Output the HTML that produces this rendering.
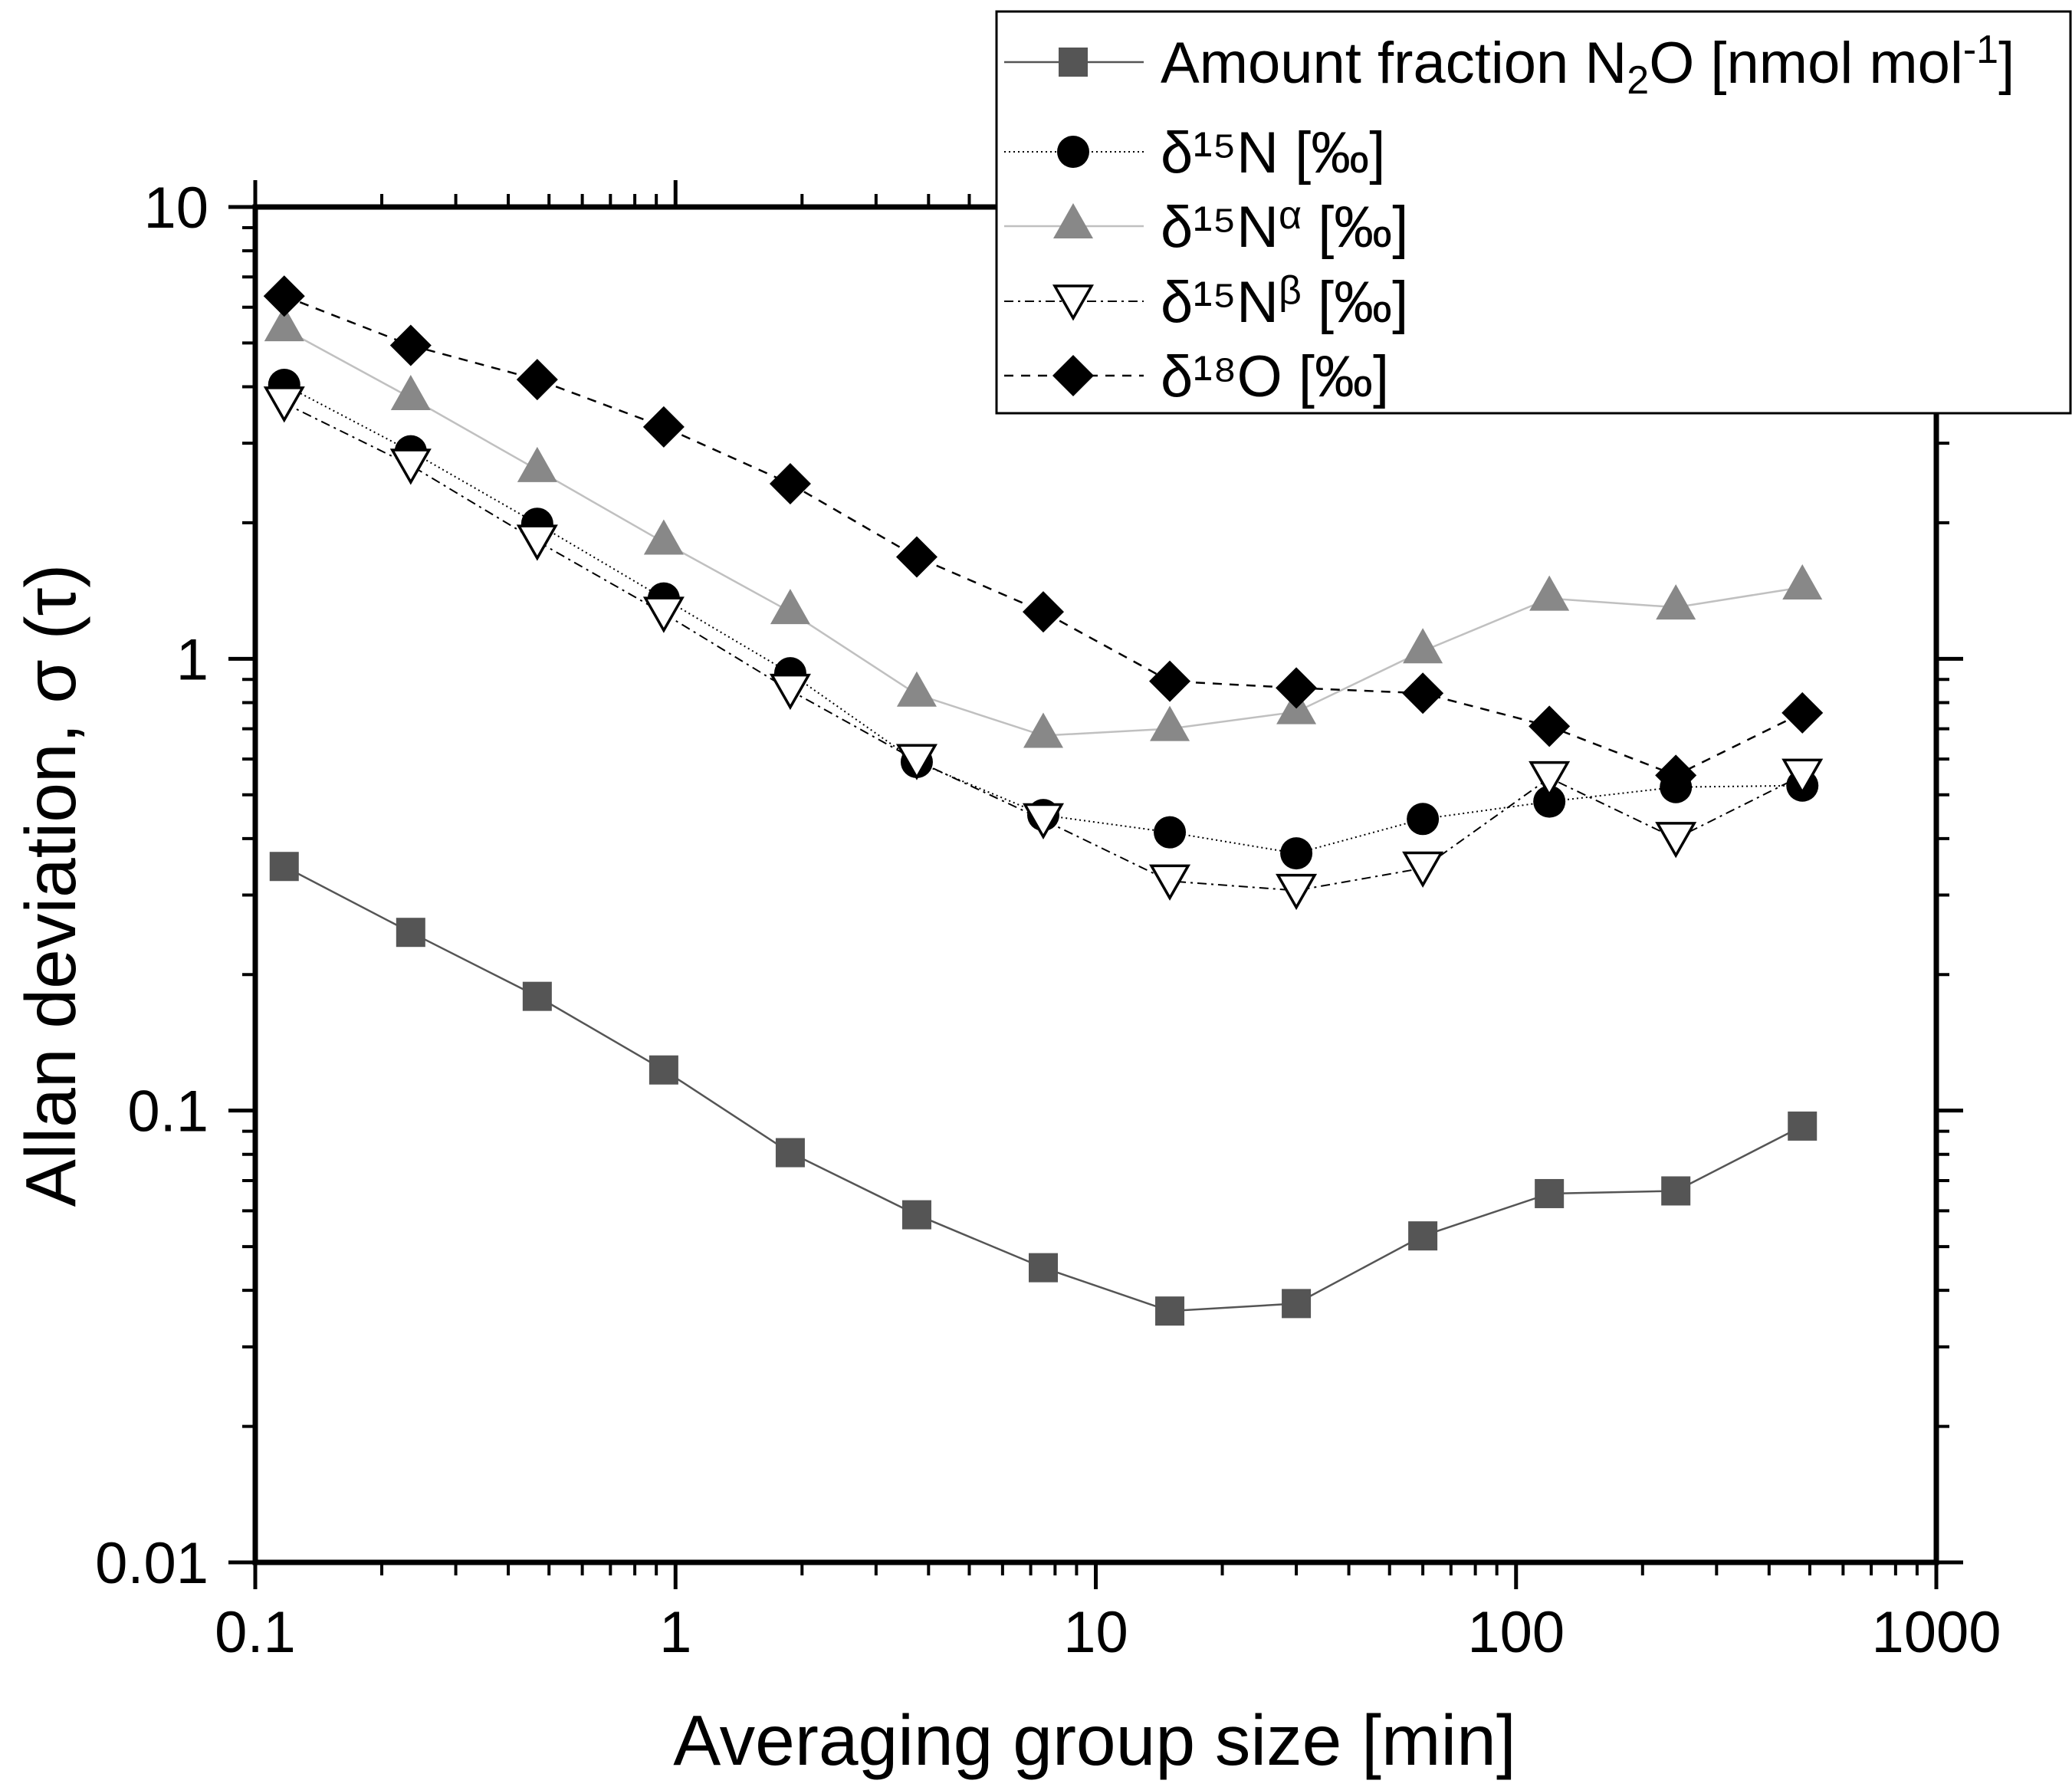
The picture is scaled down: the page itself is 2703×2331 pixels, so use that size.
<!DOCTYPE html>
<html><head><meta charset="utf-8"><style>
html,body{margin:0;padding:0;background:#fff;}
svg{display:block;font-family:"Liberation Sans",Arial,sans-serif;}
</style></head><body>
<svg id="chart" width="2703" height="2331" viewBox="0 0 2703 2331" xmlns="http://www.w3.org/2000/svg">
<g id="grid-layer"></g>
<g id="series-layer"></g>
<g id="axes-layer"></g>
<text x="1428" y="2302" font-size="93" text-anchor="middle">Averaging group size [min]</text>
<text transform="translate(98,1155) rotate(-90)" font-size="93" text-anchor="middle">Allan deviation, σ (τ)</text>
<g id="legend-layer"></g>
</svg>
<script>
const xValues = [0.1171875,0.234375,0.46875,0.9375,1.875,3.75,7.5,15,30,60,120,240,480];
const n2oValues = [0.347,0.248,0.179,0.123,0.0807,0.0588,0.0449,0.0360,0.0374,0.0528,0.0655,0.0664,0.0924];
const d15NValues = [4.04,2.88,1.99,1.36,0.929,0.591,0.451,0.413,0.371,0.442,0.483,0.52,0.524];
const d15NaValues = [5.37,3.78,2.62,1.81,1.27,0.834,0.676,0.700,0.763,1.04,1.36,1.30,1.44];
const d15NbValues = [3.68,2.68,1.82,1.26,0.851,0.595,0.44,0.322,0.307,0.344,0.545,0.40,0.552];
const d18OValues = [6.35,4.94,4.15,3.26,2.44,1.68,1.27,0.892,0.862,0.839,0.709,0.552,0.759];
const xTickLabels = ["0.1","1","10","100","1000"];
const yTickLabels = ["0.01","0.1","1","10"];

const NS = "http://www.w3.org/2000/svg";
const L = 333, R = 2526, T = 270, B = 2038;
const xMin = -1, xMax = 3, yMin = -2, yMax = 1;
function xs(v){ return L + (Math.log10(v) - xMin) / (xMax - xMin) * (R - L); }
function ys(v){ return B - (Math.log10(v) - yMin) / (yMax - yMin) * (B - T); }
function mk(tag, attrs, parent){ const e = document.createElementNS(NS, tag); for (const k in attrs) e.setAttribute(k, attrs[k]); parent.appendChild(e); return e; }

const axes = document.getElementById('axes-layer');
const series = document.getElementById('series-layer');
const legend = document.getElementById('legend-layer');

// frame
const frame = mk('rect', {x:L, y:T, width:R-L, height:B-T, fill:'none', stroke:'#000', 'stroke-width':7}, axes);



// x ticks
for (let d = xMin; d <= xMax; d++) {
  for (let m = 1; m <= 9; m++) {
    const v = m * Math.pow(10, d);
    if (Math.log10(v) > xMax + 1e-9) break;
    const x = xs(v), len = m === 1 ? 35 : 17, w = m === 1 ? 5 : 4;
    const t1 = mk('line', {x1:x, y1:B, x2:x, y2:B+len, stroke:'#000', 'stroke-width':w}, axes);
    
    
    const t2 = mk('line', {x1:x, y1:T, x2:x, y2:T-len, stroke:'#000', 'stroke-width':w}, axes);
    
    
  }
}
xTickLabels.forEach((lab, i) => {
  const t = mk('text', {x:xs(Math.pow(10, xMin + i)), y:2155, 'font-size':76, 'text-anchor':'middle'}, axes);
  t.textContent = lab;
  
  
});
// y ticks
for (let d = yMin; d <= yMax; d++) {
  for (let m = 1; m <= 9; m++) {
    const v = m * Math.pow(10, d);
    if (Math.log10(v) > yMax + 1e-9) break;
    const y = ys(v), len = m === 1 ? 35 : 17, w = m === 1 ? 5 : 4;
    const t1 = mk('line', {x1:L, y1:y, x2:L-len, y2:y, stroke:'#000', 'stroke-width':w}, axes);
    
    
    const t2 = mk('line', {x1:R, y1:y, x2:R+len, y2:y, stroke:'#000', 'stroke-width':w}, axes);
    
    
  }
}
yTickLabels.forEach((lab, i) => {
  const t = mk('text', {x:272, y:ys(Math.pow(10, yMin + i)) + 27, 'font-size':76, 'text-anchor':'end'}, axes);
  t.textContent = lab;
  
  
});

function marker(type, cx, cy, parent, s){
  s = s || 1;
  let e;
  if (type === 'square') e = mk('rect', {x:cx-19*s, y:cy-19*s, width:38*s, height:38*s, fill:'#555'}, parent);
  else if (type === 'circle') e = mk('circle', {cx:cx, cy:cy, r:21*s, fill:'#000'}, parent);
  else if (type === 'up') e = mk('polygon', {points:`${cx},${cy-30*s} ${cx+26*s},${cy+16*s} ${cx-26*s},${cy+16*s}`, fill:'#888'}, parent);
  else if (type === 'down') e = mk('polygon', {points:`${cx-24*s},${cy-20*s} ${cx+24*s},${cy-20*s} ${cx},${cy+22*s}`, fill:'#fff', stroke:'#000', 'stroke-width':3.5}, parent);
  else e = mk('polygon', {points:`${cx},${cy-27*s} ${cx+27*s},${cy} ${cx},${cy+27*s} ${cx-27*s},${cy}`, fill:'#000'}, parent);
  return e;
}

const seriesDefs = [
  {name:'n2o', vals:n2oValues, type:'square', stroke:'#555', width:2.5, dash:''},
  {name:'d15N', vals:d15NValues, type:'circle', stroke:'#000', width:2, dash:'2 4'},
  {name:'d15Na', vals:d15NaValues, type:'up', stroke:'#c0c0c0', width:2.5, dash:''},
  {name:'d15Nb', vals:d15NbValues, type:'down', stroke:'#000', width:2, dash:'12 6 3 6'},
  {name:'d18O', vals:d18OValues, type:'diamond', stroke:'#000', width:2.5, dash:'12 10'}
];
const order = ['d15Na','n2o','d15N','d15Nb','d18O'];
order.forEach(nm => {
  const s = seriesDefs.find(d => d.name === nm);
  const g = mk('g', {}, series);
  
  
  const pts = xValues.map((x, i) => xs(x) + ',' + ys(s.vals[i])).join(' ');
  const line = mk('polyline', {points:pts, fill:'none', stroke:s.stroke, 'stroke-width':s.width, 'stroke-dasharray':s.dash}, g);
  
  
  xValues.forEach((x, i) => {
    const m = marker(s.type, xs(x), ys(s.vals[i]), g);
    
    
  });
});

// legend
const box = mk('rect', {x:1300, y:15, width:1401, height:524, fill:'#fff', stroke:'#000', 'stroke-width':3}, legend);


const legRows = [
  {s:'n2o', y:81, html:'Amount fraction N<tspan font-size="52" dy="14">2</tspan><tspan dy="-14">O [nmol mol</tspan><tspan font-size="52" dy="-26">-1</tspan><tspan dy="26">]</tspan>'},
  {s:'d15N', y:198, html:'δ¹⁵N [‰]'},
  {s:'d15Na', y:295, html:'δ¹⁵N<tspan font-size="52" dy="-24">α</tspan><tspan dy="24"> [‰]</tspan>'},
  {s:'d15Nb', y:393, html:'δ¹⁵N<tspan font-size="52" dy="-24">β</tspan><tspan dy="24"> [‰]</tspan>'},
  {s:'d18O', y:490, html:'δ¹⁸O [‰]'}
];
legRows.forEach(r => {
  const s = seriesDefs.find(d => d.name === r.s);
  const g = mk('g', {}, legend);
  
  
  mk('line', {x1:1310, y1:r.y, x2:1492, y2:r.y, stroke:s.stroke, 'stroke-width':s.width, 'stroke-dasharray':s.dash}, g);
  marker(s.type, 1400, r.y, g);
  const t = mk('text', {x:1514, y:r.y + 27, 'font-size':76}, g);
  t.innerHTML = r.html;
});
</script>
</body></html>
